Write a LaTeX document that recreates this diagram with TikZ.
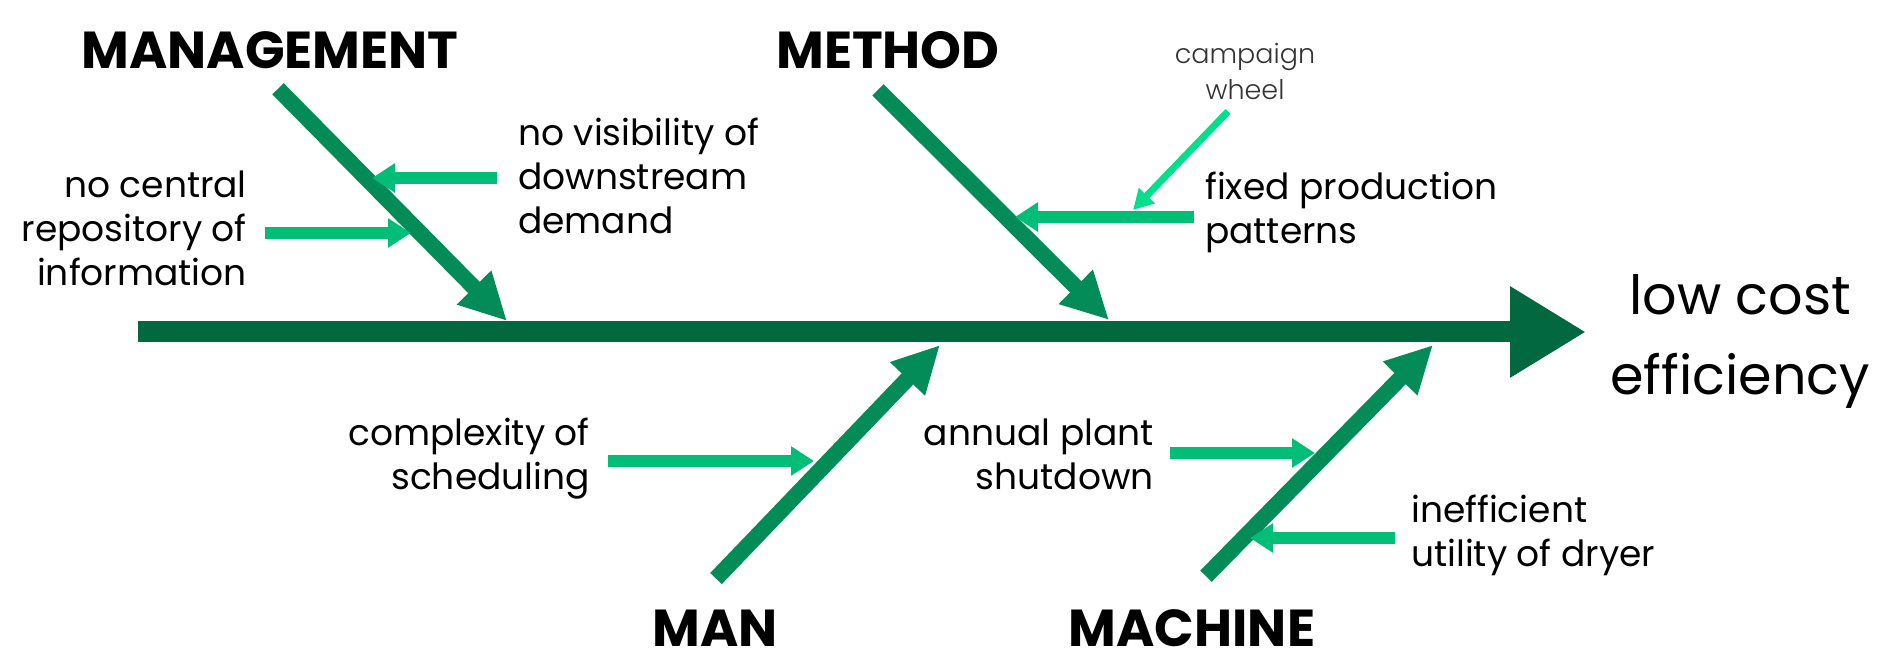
\documentclass[tikz,border=0pt]{standalone}
\usepackage{fontspec}
\setmainfont{Poppins}
\newfontfamily\thinfont{Poppins Light}
\usetikzlibrary{arrows.meta}
\definecolor{spinegreen}{HTML}{02683F}
\definecolor{bonegreen}{HTML}{038C58}
\definecolor{causegreen}{HTML}{00BD78}
\definecolor{wheelgreen}{HTML}{00E08C}

\begin{document}
\begin{tikzpicture}[x = 1pt, y = 1pt,
    spine/.style = {line width = 21pt, color = spinegreen, -{Triangle[length = 76pt, width = 86pt]}},
    bone/.style = {line width = 16pt, color = bonegreen, -{Triangle[length = 47pt, width = 45pt]}},
    cause/.style = {line width = 12pt, color = causegreen, -{Triangle[length = 23pt, width = 28pt]}},
    hint/.style = {line width = 7pt, color = wheelgreen, -{Triangle[length = 20pt, width = 21pt]}},
    category/.style = {font = \fontsize{52}{60}\selectfont\bfseries, inner sep = 0pt},
    causetext/.style = {font = \fontsize{36}{44}\selectfont, inner sep = 0pt},
    effecttext/.style = {font = \fontsize{54}{80}\selectfont, inner sep = 0pt, align = center}]
    \useasboundingbox (0,0) rectangle (1887,666);

    \node [category] (management) at (270,616) {MANAGEMENT};
    \node [category] (method) at (888,616) {METHOD};
    \node [category] (man) at (715,38) {MAN};
    \node [category] (machine) at (1192,38) {MACHINE};
    \node [effecttext] (efficiency) at (1740,325) {low cost\\efficiency};

    \node [causetext, anchor = west, align = left] (visibility) at (518,490) {no visibility of\\downstream\\demand};
    \node [causetext, anchor = east, align = right] (repository) at (247,438) {no central\\repository of\\information};
    \node [causetext, anchor = west, align = left] (fixed) at (1205,454) {fixed production\\patterns};
    \node [causetext, anchor = east, align = right] (complexity) at (590,207) {complexity of\\scheduling};
    \node [causetext, anchor = east, align = right] (shutdown) at (1154,212) {annual plant\\shutdown};
    \node [causetext, anchor = west, align = left] (dryer) at (1411,131) {inefficient\\utility of dryer};
    \node [font = \fontsize{27}{36}\selectfont\thinfont, text = black!80, inner sep = 0pt, align = center] (wheel) at (1245,595) {campaign\\wheel};

    \coordinate (tail) at (138,334);
    \coordinate (head) at (1586,334);
    \coordinate (mgmtEnd) at (507,345);
    \coordinate (methodEnd) at (1109,346);
    \coordinate (manEnd) at (940,321);
    \coordinate (machineEnd) at (1433,321);
    \coordinate (visEnd) at (372,488);
    \coordinate (repoEnd) at (411,433);
    \coordinate (fixedEnd) at (1015,449);
    \coordinate (fixedTop) at (1133,456);
    \coordinate (complexEnd) at (814,205);
    \coordinate (shutEnd) at (1315,213);
    \coordinate (dryerEnd) at (1250,128);

    \draw [bone] ([xshift = 8pt, yshift = -20pt]management.south) -- (mgmtEnd);
    \draw [bone] ([xshift = -10pt, yshift = -21pt]method.south) -- (methodEnd);
    \draw [bone] ([xshift = 1pt, yshift = 31pt]man.north) -- (manEnd);
    \draw [bone] ([xshift = 14pt, yshift = 33pt]machine.north) -- (machineEnd);

    \draw [cause] ([xshift = -21pt, yshift = -2pt]visibility.west) -- (visEnd);
    \draw [cause] ([xshift = 18pt, yshift = -5pt]repository.east) -- (repoEnd);
    \draw [cause] ([xshift = -11pt, yshift = -5pt]fixed.west) -- (fixedEnd);
    \draw [cause] ([xshift = 18pt, yshift = -2pt]complexity.east) -- (complexEnd);
    \draw [cause] ([xshift = 16pt, yshift = 1pt]shutdown.east) -- (shutEnd);
    \draw [cause] ([xshift = -16pt, yshift = -3pt]dryer.west) -- (dryerEnd);
    \draw [hint] ([xshift = -17pt, yshift = -12pt]wheel.south) -- (fixedTop);

    \draw [spine] (tail) -- (head);
\end{tikzpicture}
\end{document}
